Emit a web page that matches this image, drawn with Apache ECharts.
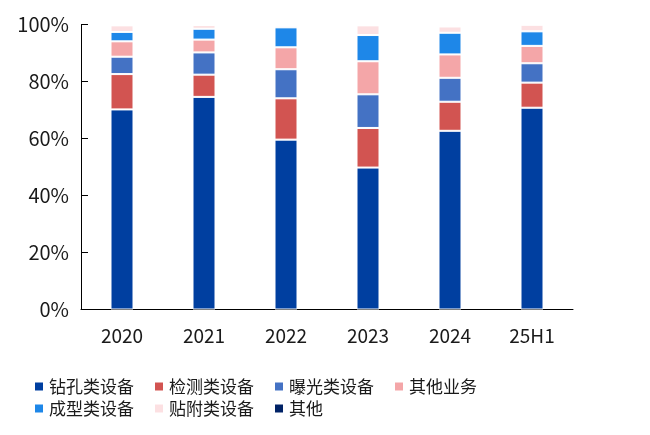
<!DOCTYPE html>
<html><head><meta charset="utf-8">
<script src="https://cdn.jsdelivr.net/npm/echarts@6/dist/echarts.min.js"></script>
<style>html,body{margin:0;padding:0;background:#fff}#c{width:650px;height:435px}</style>
</head><body><div id="c"></div>
<script>
const categories = ['2020', '2021', '2022', '2023', '2024', '25H1'];
const seriesNames = ['钻孔类设备', '检测类设备', '曝光类设备', '其他业务', '成型类设备', '贴附类设备', '其他'];
const drilling   = [70.2, 74.6, 59.6, 49.8, 62.7, 70.8];
const inspection = [12.4, 7.8, 14.5, 13.9, 10.2, 8.8];
const exposure   = [6.1, 7.8, 10.2, 11.8, 8.4, 6.8];
const otherBiz   = [5.4, 4.5, 7.7, 11.6, 8.2, 6.1];
const forming    = [3.3, 3.8, 7.0, 9.2, 7.6, 5.1];
const laminating = [2.3, 1.3, 0.6, 3.4, 2.2, 2.3];
const others     = [0.3, 0.2, 0.3, 0.3, 0.1, 0.1];
const yTicks = [0, 20, 40, 60, 80, 100];

const colors = ['#003FA0', '#D25451', '#4472C4', '#F4A6A8', '#1E87E8', '#FCE0E2', '#002266'];
const values = [drilling, inspection, exposure, otherBiz, forming, laminating, others];
const font = "'Noto Sans CJK SC', 'Noto Sans', sans-serif";

const chart = echarts.init(document.getElementById('c'));
const legendCommon = {
  orient: 'horizontal', itemWidth: 10, itemHeight: 10, itemGap: 19,
  icon: 'rect', textStyle: { fontSize: 17, color: '#1a1a1a', fontFamily: font },
  selectedMode: false
};
chart.setOption({
  animation: false,
  color: colors,
  textStyle: { fontFamily: font },
  legend: [
    Object.assign({ left: 28, top: 373, data: seriesNames.slice(0, 4) }, legendCommon),
    Object.assign({ left: 28, top: 395, data: seriesNames.slice(4) }, legendCommon)
  ],
  grid: { left: 81, right: 77, top: 24.5, bottom: 125.5, containLabel: false },
  xAxis: {
    type: 'category', data: categories,
    axisLine: { lineStyle: { color: '#000', width: 1 } },
    axisTick: { inside: true, length: 7, lineStyle: { color: '#000' } },
    axisLabel: { fontSize: 19, color: '#1a1a1a', margin: 17, fontFamily: font }
  },
  yAxis: {
    type: 'value', min: yTicks[0], max: yTicks[yTicks.length - 1], interval: 20,
    axisLine: { show: true, lineStyle: { color: '#000', width: 1 } },
    axisTick: { show: true, inside: true, length: 7, lineStyle: { color: '#000' } },
    splitLine: { show: false },
    axisLabel: { fontSize: 20, color: '#1a1a1a', margin: 12, formatter: '{value}%', fontFamily: font }
  },
  series: seriesNames.map((n, i) => ({
    name: n, type: 'bar', stack: 'total', data: values[i], barWidth: 23,
    itemStyle: { color: colors[i], borderColor: '#fff', borderWidth: 1 }
  }))
});
</script></body></html>
